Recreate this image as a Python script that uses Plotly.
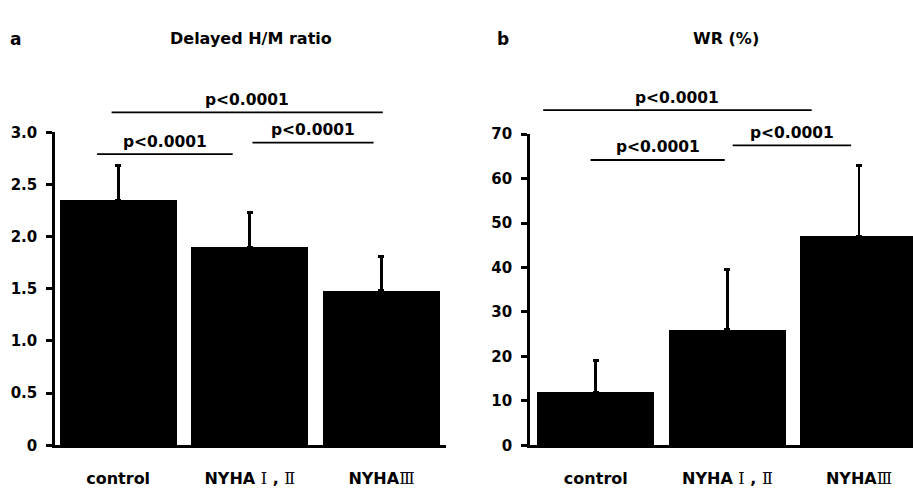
import plotly.graph_objects as go

# ---------------- data ----------------
categories = ["control", "NYHA Ⅰ , Ⅱ", "NYHAⅢ"]
hm_ratio_mean = [2.35, 1.90, 1.48]
hm_ratio_sd = [0.33, 0.33, 0.33]
wr_mean = [12.0, 26.0, 47.0]
wr_sd = [7.0, 13.5, 16.0]

hm_ticks = [0, 0.5, 1.0, 1.5, 2.0, 2.5, 3.0]
hm_ticktext = ["0", "0.5", "1.0", "1.5", "2.0", "2.5", "3.0"]
wr_ticks = [0, 10, 20, 30, 40, 50, 60, 70]
wr_ticktext = ["0", "10", "20", "30", "40", "50", "60", "70"]

# significance brackets: (x start, x end, level in data units, label) in category index units
hm_brackets = [(-0.05, 2.01, 3.19, "p<0.0001"),
               (-0.16, 0.87, 2.79, "p<0.0001"),
               (1.02, 1.94, 2.90, "p<0.0001")]
wr_brackets = [(-0.40, 1.64, 75.4, "p<0.0001"),
               (-0.04, 0.98, 64.2, "p<0.0001"),
               (1.04, 1.94, 67.5, "p<0.0001")]

FONT = "DejaVu Sans"
W, H = 913, 488

def fmt_cat(c):
    # render Roman numerals in a serif face like the original
    out = ""
    for ch in c:
        if ch in "ⅠⅡⅢ":
            out += "<span style='font-family:DejaVu Serif;font-weight:normal'>" + ch + "</span>"
        else:
            out += ch
    return out

cat_text = [fmt_cat(c) for c in categories]
xidx = list(range(len(categories)))

fig = go.Figure()

fig.add_trace(go.Bar(
    x=xidx, y=hm_ratio_mean, width=0.89, marker=dict(color="black", line=dict(width=0)),
    error_y=dict(type="data", symmetric=False, array=hm_ratio_sd, arrayminus=[0]*3,
                 color="black", thickness=2.8, width=3),
    xaxis="x", yaxis="y", showlegend=False, hoverinfo="skip"))

fig.add_trace(go.Bar(
    x=xidx, y=wr_mean, width=0.89, marker=dict(color="black", line=dict(width=0)),
    error_y=dict(type="data", symmetric=False, array=wr_sd, arrayminus=[0]*3,
                 color="black", thickness=2.8, width=3),
    xaxis="x2", yaxis="y2", showlegend=False, hoverinfo="skip"))

yd_a = [0.0717, 0.7377]
yd_b = [0.0717, 0.7336]
hm_range = [0, 3.0]
wr_range = [0, 70]

axis_common = dict(showgrid=False, zeroline=False, showline=True, linecolor="black",
                   linewidth=2.5, mirror=False, fixedrange=True)

fig.update_layout(
    width=W, height=H,
    margin=dict(l=0, r=0, t=0, b=0),
    paper_bgcolor="white", plot_bgcolor="white",
    font=dict(family=FONT, color="black"),
    bargap=0,
    xaxis=dict(domain=[0.0602, 0.4885], range=[-0.48, 2.49], anchor="y",
               tickvals=xidx, ticktext=cat_text, ticks="", ticklabelstandoff=17,
               tickfont=dict(size=16, family=FONT, weight="bold"), **axis_common),
    yaxis=dict(domain=yd_a, range=hm_range, anchor="x",
               tickvals=hm_ticks, ticktext=hm_ticktext, ticks="outside", ticklen=6,
               tickwidth=2.5, tickcolor="black", ticklabelstandoff=6,
               tickfont=dict(size=15, family=FONT, weight="bold"), **axis_common),
    xaxis2=dict(domain=[0.5805, 1.0], range=[-0.5, 2.41], anchor="y2",
                tickvals=xidx, ticktext=cat_text, ticks="", ticklabelstandoff=17,
                tickfont=dict(size=16, family=FONT, weight="bold"), **axis_common),
    yaxis2=dict(domain=yd_b, range=wr_range, anchor="x2",
                tickvals=wr_ticks, ticktext=wr_ticktext, ticks="outside", ticklen=6,
                tickwidth=2.5, tickcolor="black", ticklabelstandoff=6,
                tickfont=dict(size=15, family=FONT, weight="bold"), **axis_common),
)

def to_paper(v, rng, dom):
    return dom[0] + (v - rng[0]) / (rng[1] - rng[0]) * (dom[1] - dom[0])

shapes = []
annotations = []
for brs, xr, rng, dom in [(hm_brackets, "x", hm_range, yd_a), (wr_brackets, "x2", wr_range, yd_b)]:
    for x0, x1, lvl, lab in brs:
        yp = to_paper(lvl, rng, dom)
        shapes.append(dict(type="line", xref=xr, yref="paper", x0=x0, x1=x1, y0=yp, y1=yp,
                           line=dict(color="black", width=1.8)))
        annotations.append(dict(xref=xr, yref="paper", x=(x0 + x1) / 2, y=yp + 13 / H,
                                text=lab, showarrow=False, yanchor="middle",
                                font=dict(size=15.5, family=FONT, weight="bold")))

# panel titles
annotations += [
    dict(xref="paper", yref="paper", x=8 / W, y=1 - 31 / H, text="a", showarrow=False,
         xanchor="left", yanchor="middle", font=dict(size=17, family=FONT, weight="bold")),
    dict(xref="paper", yref="paper", x=251 / W, y=1 - 31 / H, text="Delayed H/M ratio",
         showarrow=False, xanchor="center", yanchor="middle",
         font=dict(size=16, family=FONT, weight="bold")),
    dict(xref="paper", yref="paper", x=495 / W, y=1 - 31 / H, text="b", showarrow=False,
         xanchor="left", yanchor="middle", font=dict(size=17, family=FONT, weight="bold")),
    dict(xref="paper", yref="paper", x=726 / W, y=1 - 31 / H, text="WR (%)",
         showarrow=False, xanchor="center", yanchor="middle",
         font=dict(size=16, family=FONT, weight="bold")),
]

fig.update_layout(shapes=shapes, annotations=annotations)
fig.write_html("out.html", config={"displayModeBar": False},
               post_script="document.body.style.margin='0px';document.body.style.overflow='hidden';")
